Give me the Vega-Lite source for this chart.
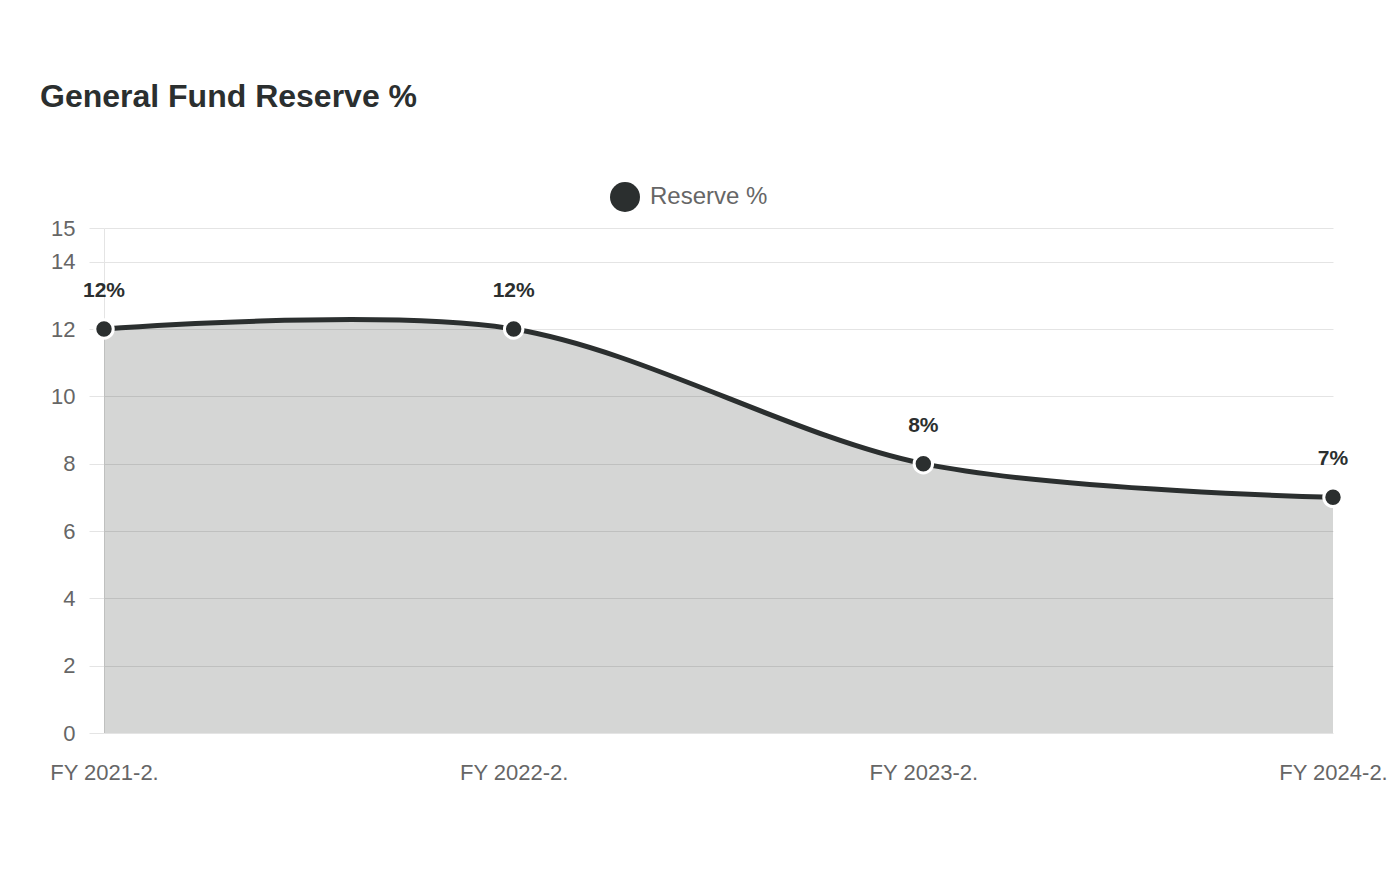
{
  "$schema": "https://vega.github.io/schema/vega-lite/v6.json",
  "width": 1229,
  "height": 505,
  "autosize": {"type": "none"},
  "padding": {"left": 104, "top": 228, "right": 67, "bottom": 147},
  "background": "white",
  "title": {
    "text": "General Fund Reserve %",
    "anchor": "start",
    "frame": "group",
    "dx": -64,
    "offset": 68,
    "fontSize": 32,
    "font": "Liberation Sans",
    "fontWeight": "bold",
    "color": "#2b2f2f"
  },
  "data": {
    "values": [
      {"year": "FY 2021-2.", "value": 12, "label": "12%", "series": "Reserve %"},
      {"year": "FY 2022-2.", "value": 12, "label": "12%", "series": "Reserve %"},
      {"year": "FY 2023-2.", "value": 8, "label": "8%", "series": "Reserve %"},
      {"year": "FY 2024-2.", "value": 7, "label": "7%", "series": "Reserve %"}
    ]
  },
  "encoding": {
    "x": {
      "field": "year",
      "type": "ordinal",
      "sort": null,
      "scale": {"type": "point", "padding": 0},
      "axis": {
        "title": null,
        "labelAngle": 0,
        "ticks": false,
        "grid": false,
        "domain": false,
        "labelPadding": 29,
        "labelFontSize": 22,
        "labelColor": "#666666",
        "labelFont": "Liberation Sans"
      }
    },
    "y": {
      "field": "value",
      "type": "quantitative",
      "scale": {"domain": [0, 15], "nice": false, "zero": true},
      "axis": {
        "title": null,
        "values": [0, 2, 4, 6, 8, 10, 12, 14, 15],
        "grid": true,
        "gridColor": "#e4e4e4",
        "gridWidth": 1,
        "domain": true,
        "domainColor": "#e4e4e4",
        "ticks": true,
        "tickSize": 15,
        "tickColor": "#e4e4e4",
        "labelPadding": 14,
        "labelFontSize": 22,
        "labelColor": "#666666",
        "labelFont": "Liberation Sans"
      }
    }
  },
  "layer": [
    {
      "mark": {
        "type": "area",
        "interpolate": "cardinal",
        "tension": 0.05,
        "color": "#2b302f",
        "fillOpacity": 0.2
      }
    },
    {
      "mark": {
        "type": "line",
        "interpolate": "cardinal",
        "tension": 0.05,
        "color": "#2b2f2f",
        "strokeWidth": 5
      }
    },
    {
      "mark": {
        "type": "point",
        "filled": true,
        "shape": "circle",
        "size": 340,
        "opacity": 1,
        "stroke": "white",
        "strokeWidth": 3
      },
      "encoding": {
        "color": {
          "field": "series",
          "type": "nominal",
          "scale": {"range": ["#2b2f2f"]},
          "legend": {
            "title": null,
            "orient": "none",
            "legendX": 506,
            "legendY": -46,
            "padding": 0,
            "symbolType": "circle",
            "symbolSize": 900,
            "symbolStrokeWidth": 0,
            "symbolOpacity": 1,
            "labelFontSize": 24,
            "labelColor": "#666666",
            "labelFont": "Liberation Sans",
            "labelOffset": 10
          }
        }
      }
    },
    {
      "mark": {
        "type": "text",
        "dy": -38,
        "baseline": "middle",
        "align": "center",
        "fontSize": 21,
        "fontWeight": "bold",
        "font": "Liberation Sans",
        "color": "#2b2f2f"
      },
      "encoding": {
        "text": {"field": "label", "type": "nominal"}
      }
    }
  ],
  "config": {
    "view": {"stroke": null},
    "font": "Liberation Sans"
  }
}
